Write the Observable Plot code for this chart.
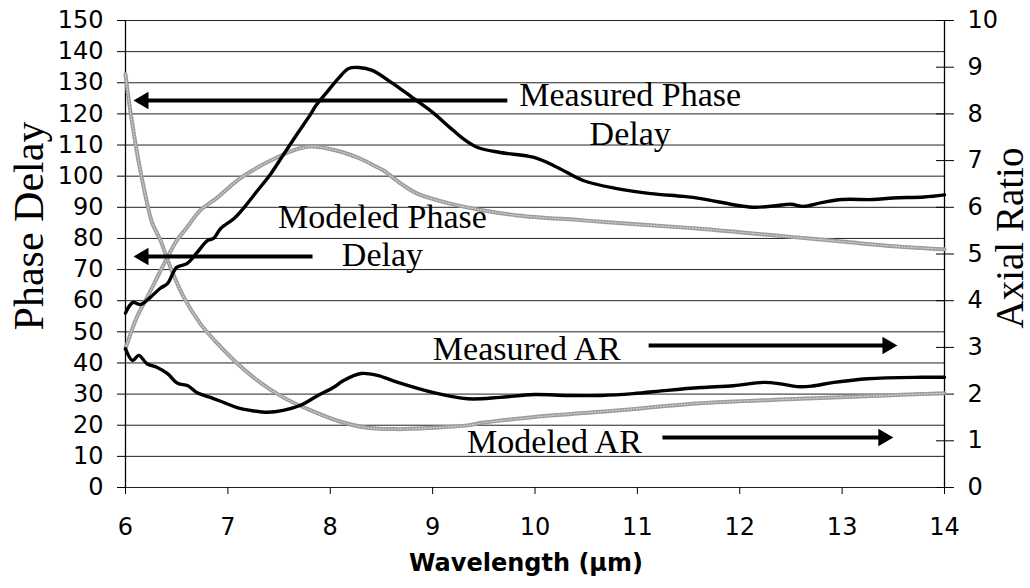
<!DOCTYPE html>
<html><head><meta charset="utf-8">
<script src="https://cdn.jsdelivr.net/npm/d3@7"></script>
<script src="https://cdn.jsdelivr.net/npm/@observablehq/plot@0.6"></script>
<style>body{margin:0;background:#fff}</style>
</head><body><div id="chart"></div>
<script>
// Measured phase delay (left axis, degrees)
const measuredPhaseX = [6.00,6.07,6.15,6.24,6.34,6.41,6.50,6.60,6.70,6.80,6.86,6.93,7.06,7.16,7.29,7.42,7.55,7.68,7.81,7.86,7.98,8.08,8.18,8.28,8.41,8.61,8.80,9.00,9.17,9.30,9.44,9.66,9.99,10.22,10.47,10.80,11.13,11.45,11.62,12.00,12.15,12.35,12.50,12.62,12.80,13.00,13.30,13.50,13.80,14.00];
const measuredPhaseY = [56,59.4,58.8,61,64,65.5,70.7,71.9,75.5,79.3,80,83.2,86.4,90,95.4,100.8,107.3,113.7,120,122.7,127.5,131.4,134.6,134.9,134,129.8,125.3,120.5,115.6,112,109.2,107.6,106,102.8,98.6,96,94.4,93.5,92.8,90.5,90,90.5,91,90.3,91.5,92.5,92.5,93,93.3,94];
// Modeled phase delay (left axis)
const modeledPhaseX = [6.00,6.11,6.21,6.31,6.41,6.50,6.60,6.73,6.90,7.09,7.29,7.48,7.64,7.81,7.97,8.13,8.30,8.45,8.52,8.69,8.85,9.17,9.50,9.83,10.47,11.13,11.58,12.00,12.50,13.00,13.50,14.00];
const modeledPhaseY = [44.6,54.6,61,67.5,74,79.3,83.5,89,93.2,98.6,102.8,106,108.3,109.5,108.9,107.6,105.5,103,101.8,97.6,94.4,91.2,89,87.4,85.8,84.2,83.2,82,80.5,79,77.5,76.5];
// Measured axial ratio (right axis)
const measuredARX = [6.00,6.07,6.13,6.21,6.31,6.41,6.51,6.61,6.70,6.83,6.96,7.09,7.22,7.39,7.54,7.71,7.88,8.03,8.13,8.30,8.46,8.66,9.01,9.34,9.66,9.99,10.32,10.64,10.96,11.29,11.62,11.94,12.23,12.40,12.56,12.70,12.92,13.25,13.77,14.00];
const measuredARY = [2.97,2.72,2.83,2.65,2.57,2.44,2.23,2.18,2.03,1.93,1.82,1.71,1.65,1.61,1.65,1.76,1.97,2.14,2.29,2.44,2.40,2.25,2.03,1.90,1.93,1.99,1.97,1.97,2.01,2.08,2.14,2.18,2.25,2.22,2.16,2.17,2.25,2.33,2.36,2.36];
// Modeled axial ratio (right axis)
const modeledARX = [6.00,6.03,6.08,6.13,6.20,6.26,6.34,6.44,6.57,6.73,6.90,7.09,7.29,7.54,7.81,8.07,8.36,8.66,9.01,9.34,9.50,10.15,10.80,11.58,12.59,13.77,14.00];
const modeledARY = [8.85,8.33,7.60,6.96,6.20,5.67,5.30,4.71,4.07,3.51,3.08,2.66,2.29,1.93,1.65,1.43,1.28,1.25,1.28,1.33,1.39,1.54,1.65,1.80,1.90,2.00,2.02];

const phaseTicks = d3.range(0, 151, 10);
const arTicks = d3.range(0, 11, 1);
const xTicks = d3.range(6, 15, 1);

const rows = (xs, ys) => xs.map((x, i) => ({x, y: ys[i]}));
const arToPhase = d3.scaleLinear([0, 10], [0, 150]);
const serif = "'Liberation Serif','Times New Roman',serif";
const sans = "'DejaVu Sans',Verdana,sans-serif";

const gray = (data, yf) => [
  Plot.line(data, {x: "x", y: yf, stroke: "#9c9c9c", strokeWidth: 4, curve: "catmull-rom"}),
  Plot.line(data, {x: "x", y: yf, stroke: "#d4d4d4", strokeWidth: 1.2, strokeDasharray: "1,2", curve: "catmull-rom"})
];
const black = (data, yf) => Plot.line(data, {x: "x", y: yf, stroke: "#000", strokeWidth: 3.4, curve: "catmull-rom"});

function arrow(tail, tip, y, dir) {
  return [
    Plot.link([0], {x1: tail, x2: tip - dir * 0.1, y1: y, y2: y, stroke: "#000", strokeWidth: 4}),
    Plot.dot([0], {x: tip, y: y, symbol: "triangle", r: 6.43, fill: "#000", stroke: "none", rotate: dir * 90, dx: -dir * 10})
  ];
}

const plot = Plot.plot({
  width: 1030, height: 588,
  marginLeft: 125, marginRight: 86, marginTop: 20, marginBottom: 101,
  style: {fontFamily: sans, fontSize: "24px", color: "#000", background: "#fff"},
  x: {domain: [6, 14]},
  y: {domain: [0, 150]},
  marks: [
    Plot.ruleY(phaseTicks, {stroke: "#222", strokeWidth: 1}),
    Plot.ruleX([6, 14], {stroke: "#000", strokeWidth: 1.3}),
    Plot.axisY(phaseTicks, {anchor: "left", tickSize: 8, tickPadding: 14, label: null, fontSize: 24, fontFamily: sans}),
    Plot.axisY(arTicks, {anchor: "right", y: arToPhase, tickFormat: d => d, tickSize: 18, dx: -9, tickPadding: 14, label: null, fontSize: 24, fontFamily: sans}),
    Plot.axisX(xTicks, {anchor: "bottom", tickSize: 7, tickPadding: 23, label: null, fontSize: 24, fontFamily: sans}),
    ...gray(rows(modeledPhaseX, modeledPhaseY), "y"),
    ...gray(rows(modeledARX, modeledARY), d => arToPhase(d.y)),
    black(rows(measuredPhaseX, measuredPhaseY), "y"),
    black(rows(measuredARX, measuredARY), d => arToPhase(d.y)),
    ...arrow(9.73, 6.078, 124.3, -1),
    ...arrow(7.827, 6.078, 74.2, -1),
    ...arrow(11.11, 13.54, 45.6, 1),
    ...arrow(11.245, 13.50, 16.06, 1),
    Plot.text(["Measured Phase\nDelay"], {x: 10.93, y: 109.9, lineAnchor: "bottom", lineHeight: 1.15, fontSize: 34, fontFamily: serif}),
    Plot.text(["Modeled Phase\nDelay"], {x: 8.51, y: 71.0, lineAnchor: "bottom", lineHeight: 1.12, fontSize: 34, fontFamily: serif}),
    Plot.text(["Measured AR"], {x: 9.92, y: 41.1, lineAnchor: "bottom", fontSize: 34, fontFamily: serif}),
    Plot.text(["Modeled AR"], {x: 10.19, y: 11.2, lineAnchor: "bottom", fontSize: 34, fontFamily: serif}),
    Plot.text(["Phase Delay"], {frameAnchor: "left", textAnchor: "middle", dx: -83, dy: -28, rotate: -90, lineAnchor: "bottom", fontSize: 42, fontFamily: serif}),
    Plot.text(["Axial Ratio"], {frameAnchor: "right", textAnchor: "middle", dx: 78, dy: -16, rotate: -90, lineAnchor: "bottom", fontSize: 39, fontFamily: serif}),
    Plot.text(["Wavelength (\u00b5m)"], {frameAnchor: "bottom", textAnchor: "middle", dx: -9, dy: 83, lineAnchor: "bottom", fontSize: 24, fontWeight: "bold", fontFamily: sans})
  ]
});
document.getElementById("chart").appendChild(plot);
</script>
</body></html>
